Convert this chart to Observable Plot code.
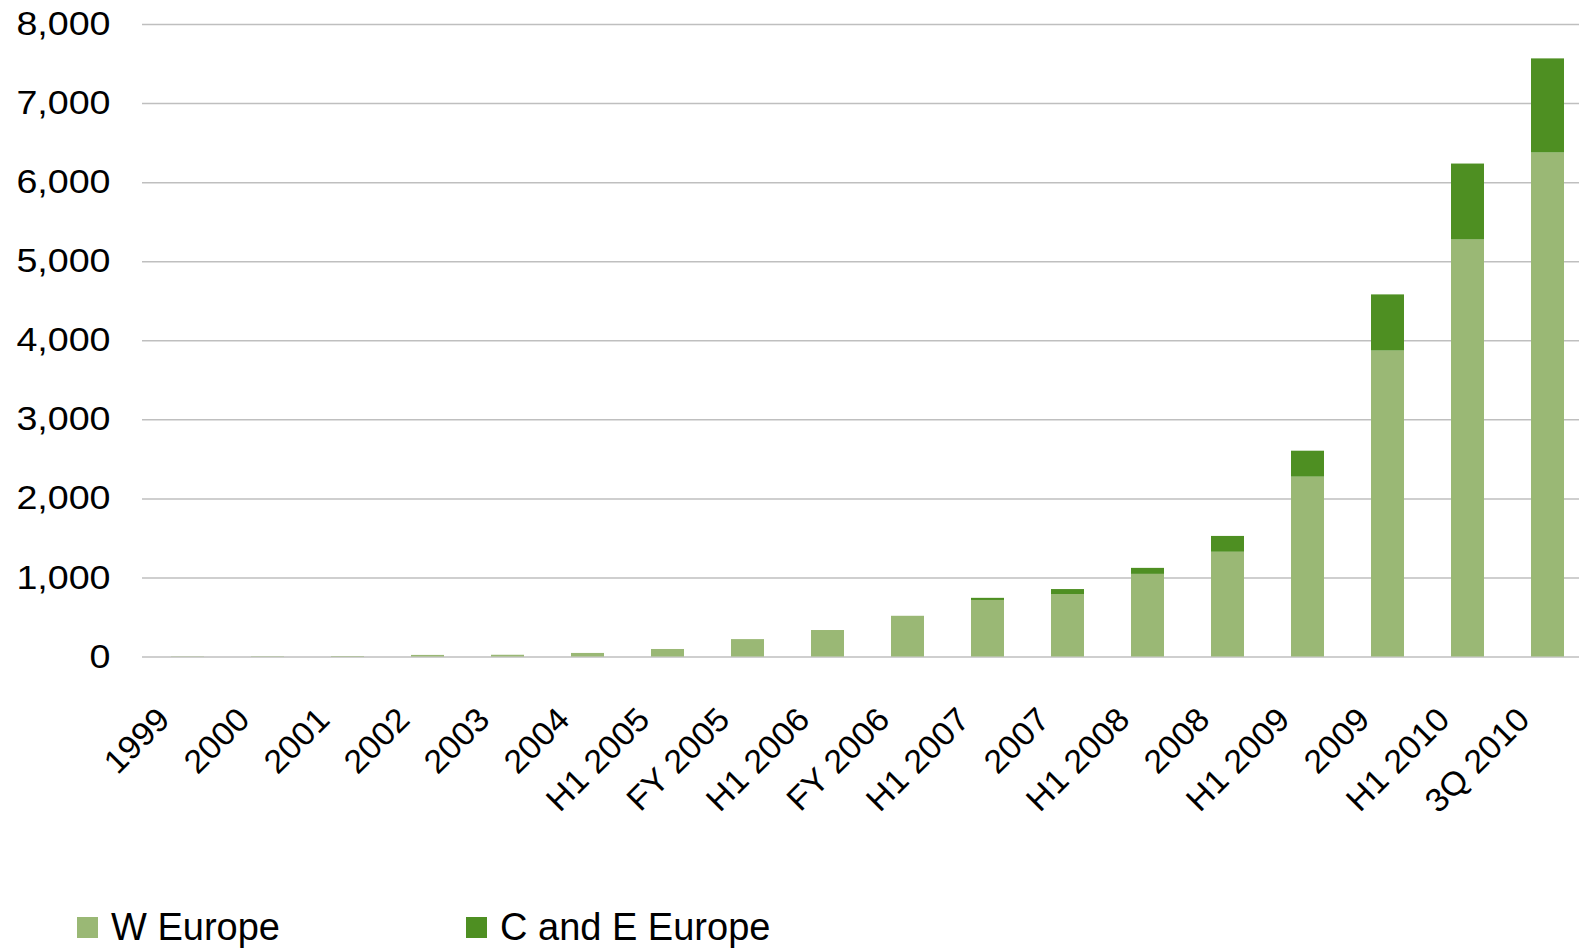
<!DOCTYPE html>
<html>
<head>
<meta charset="utf-8">
<script src="https://cdn.jsdelivr.net/npm/d3@7"></script>
<script src="https://cdn.jsdelivr.net/npm/@observablehq/plot@0.6"></script>
<style>
  html, body { margin: 0; padding: 0; background: #fff; }
  body { position: relative; width: 1579px; height: 948px; overflow: hidden; font-family: "Liberation Sans", Arial, sans-serif; }
  #legend { position: absolute; left: 0; top: 901px; width: 1579px; height: 52px; }
  .item { position: absolute; top: 0; height: 52px; display: flex; align-items: center; font-size: 38px; color: #000; }
  .swatch { width: 21px; height: 21px; margin-right: 13px; }
</style>
</head>
<body>
<div id="chart"></div>
<div id="legend"></div>
<script>
// Periods on the x axis
const periods = ["1999", "2000", "2001", "2002", "2003", "2004", "H1 2005", "FY 2005", "H1 2006",
  "FY 2006", "H1 2007", "2007", "H1 2008", "2008", "H1 2009", "2009", "H1 2010", "3Q 2010"];

// Values per region
const wEurope = [3, 4, 6, 20, 22, 45, 95, 220, 335, 515, 715, 790, 1045, 1325, 2275, 3870, 5275, 6375];
const cEurope = [0, 0, 0, 0, 0, 0, 0, 0, 0, 0, 27, 63, 76, 200, 328, 710, 960, 1190];

const seriesNames = ["W Europe", "C and E Europe"];
const seriesColors = ["#9ab875", "#4e8f22"];
const yTicks = [0, 1000, 2000, 3000, 4000, 5000, 6000, 7000, 8000];

const rows = [];
periods.forEach((p, i) => {
  rows.push({period: p, series: seriesNames[0], value: wEurope[i]});
  rows.push({period: p, series: seriesNames[1], value: cEurope[i]});
});

const chart = Plot.plot({
  width: 1579,
  height: 900,
  marginLeft: 142,
  marginRight: 0,
  marginTop: 24,
  marginBottom: 243.5,
  style: {fontFamily: "'Liberation Sans', Arial, sans-serif", color: "#000", background: "#fff"},
  // the band range runs slightly past the right edge, so the last bar sits near the border
  x: {domain: periods, range: [143, 1591], paddingInner: 0.59, paddingOuter: 0.295},
  y: {domain: [0, 8000]},
  color: {domain: seriesNames, range: seriesColors},
  marks: [
    Plot.gridY(yTicks, {stroke: "#bfbfbf", strokeOpacity: 1, strokeWidth: 1.5}),
    Plot.barY(rows, {x: "period", y: "value", fill: "series"}),
    Plot.axisY(yTicks, {tickSize: 0, tickPadding: 32, fontSize: 33, tickFormat: d3.format(","), label: null}),
    Plot.axisX({tickSize: 0, tickPadding: 57, tickRotate: -45, fontSize: 33, dx: -24, label: null})
  ]
});
document.getElementById("chart").appendChild(chart);

// widen the tick labels a little, keeping their end points fixed
d3.select(chart).selectAll('g[aria-label="y-axis tick label"] text')
  .attr("transform", function() {
    return (this.getAttribute("transform") || "") + " scale(1.14,1)";
  });
d3.select(chart).selectAll('g[aria-label="x-axis tick label"] text')
  .attr("transform", function() {
    return (this.getAttribute("transform") || "") + " scale(1.04,1)";
  });

// Legend below the chart
const legend = d3.select("#legend");
const legendX = [77, 466];
seriesNames.forEach((name, i) => {
  const item = legend.append("div").attr("class", "item").style("left", legendX[i] + "px");
  item.append("div").attr("class", "swatch").style("background", seriesColors[i]);
  item.append("span").text(name);
});
</script>
</body>
</html>
